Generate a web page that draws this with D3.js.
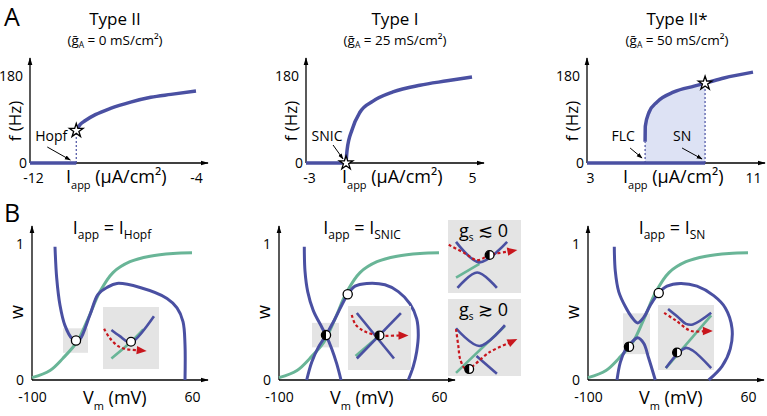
<!DOCTYPE html>
<html><head><meta charset="utf-8">
<script src="https://cdn.jsdelivr.net/npm/d3@7"></script>
<style>
body{margin:0;background:#fff;}
svg{display:block;}
</style></head><body>
<svg id="c" width="767" height="416"></svg>
<script>
// ================= DATA =================
const fiTitles = ["Type II", "Type I", "Type II*"];
const gAValues = ["0", "25", "50"];
const fiTicksI = [[-12, -4], [-3, 5], [3, 11]];
const fTicks = [0, 180];

// f-I curves (Iapp in uA/cm2, f in Hz)
const typeII_I = [-9.77, -9.58, -9.33, -8.85, -8.12, -7.15, -6.18, -5.21, -4.0];
const typeII_f = [67, 80, 88, 100, 113, 126, 136, 142, 149];
const typeI_I = [-1.07, -1.02, -0.78, -0.40, 0.23, 1.19, 2.49, 3.80, 5.0];
const typeI_f = [0, 27, 69, 105, 128, 147, 161, 170, 178];
const typeIIs_I = [5.80, 5.81, 5.99, 6.37, 7.19, 8.16, 8.69, 9.60, 11.0];
const typeIIs_f = [44, 76, 105, 126, 147, 159, 165, 176, 188];

const hopfI = -9.77, hopfF = 67;
const snicI = -1.07;
const flcI = 5.80, flcF = 44;
const snI = 8.69, snF = 165;

// phase planes (Vm in mV, w)
const vTicks = [-100, 60];
const wTicks = [0, 1];
const wNullV = [-100, -82, -69, -55, -44, -32, -19, -2, 18, 41, 60];
const wNullW = [0.017, 0.07, 0.16, 0.28, 0.45, 0.65, 0.79, 0.87, 0.91, 0.93, 0.935];

const hopfNullV = [-77, -75.3, -72, -67, -60, -56, -52, -42, -34, -25, -15, 8, 35, 45, 51, 53, 53];
const hopfNullW = [0.98, 0.75, 0.55, 0.40, 0.305, 0.29, 0.30, 0.48, 0.63, 0.68, 0.71, 0.68, 0.60, 0.53, 0.43, 0.26, 0];

const snicLeftV = [-74.7, -74, -71.3, -65.7, -57.3, -53, -47.3, -42.3, -38];
const snicLeftW = [0.98, 0.80, 0.65, 0.51, 0.39, 0.33, 0.23, 0.12, 0];
const snicRightV = [-72.3, -67.3, -60.7, -53, -44, -31.3, -24, -12.3, 6, 19.3, 31, 37.7, 39.3, 37.7, 34.3, 29.3];
const snicRightW = [0, 0.13, 0.24, 0.33, 0.45, 0.63, 0.69, 0.71, 0.70, 0.65, 0.56, 0.45, 0.33, 0.21, 0.10, 0];

const snUpperV = [-73.7, -72.7, -69.3, -62.7, -56, -50.3, -44.3, -37.7, -29.3, -21, -7.7, 9, 25.7, 37.3, 44, 42.3, 34, 20.7];
const snUpperW = [0.98, 0.80, 0.65, 0.54, 0.46, 0.42, 0.46, 0.55, 0.64, 0.69, 0.71, 0.69, 0.62, 0.53, 0.38, 0.23, 0.10, 0];
const snLowerV = [-71, -67.7, -62.7, -56, -50.3, -44.3, -39.3, -32.7];
const snLowerW = [0, 0.13, 0.22, 0.28, 0.31, 0.27, 0.16, 0];

// fixed points [V, w, kind]
const hopfPoints = [[-56, 0.29, "open"]];
const snicPoints = [[-53, 0.33, "half"], [-31.3, 0.63, "open"]];
const snPoints = [[-59, 0.245, "half"], [-29.3, 0.64, "open"]];

// zoom regions [Vmin, Vmax, wmin, wmax]
const zoomRegions = [[-69, -44, 0.20, 0.38], [-67, -40, 0.24, 0.42], [-65, -38, 0.19, 0.49]];

// schematic insets (normalised coordinates inside each inset)
const insetHopf = {
  blue: [[[0.15, 0.37], [0.30, 0.47], [0.44, 0.56], [0.53, 0.56], [0.91, 0.15]]],
  green: [[0.15, 0.83], [0.50, 0.56], [0.72, 0.36]],
  red: [[0.02, 0.35], [0.12, 0.50], [0.27, 0.63], [0.42, 0.68], [0.78, 0.71]],
  pt: [0.50, 0.56], kind: "open"
};
const insetSnic = {
  blue: [[[0.14, 0.11], [0.73, 0.82]], [[0.14, 0.82], [0.84, 0.11]]],
  green: [[0.12, 0.78], [0.50, 0.46]],
  red: [[0.06, 0.14], [0.12, 0.29], [0.27, 0.40], [0.50, 0.46], [0.96, 0.46]],
  pt: [0.50, 0.46], kind: "half"
};
const insetGsNeg = {
  blue: [[[0.11, 0.30], [0.43, 0.58], [0.81, 0.30]], [[0.13, 0.93], [0.40, 0.72], [0.67, 0.93]]],
  green: [[0.11, 0.79], [0.43, 0.60]],
  red: [[0.01, 0.34], [0.22, 0.45], [0.40, 0.55], [0.57, 0.48], [0.95, 0.41]],
  pt: [0.57, 0.48], kind: "half"
};
const insetGsPos = {
  blue: [[[0.11, 0.38], [0.43, 0.61], [0.78, 0.34]], [[0.39, 0.74], [0.67, 0.97]]],
  green: [[0.11, 0.96], [0.78, 0.35]],
  red: [[0.11, 0.39], [0.14, 0.60], [0.17, 0.79], [0.25, 0.91], [0.57, 0.69], [0.95, 0.52]],
  pt: [0.29, 0.91], kind: "half"
};
const insetSn = {
  blue: [[[0.18, 0.06], [0.35, 0.18], [0.50, 0.29], [0.62, 0.30], [0.95, 0.12]],
         [[0.14, 0.97], [0.35, 0.75], [0.50, 0.66], [0.62, 0.70], [0.95, 0.97]]],
  green: [[0.14, 0.97], [0.95, 0.16]],
  red: [[0.11, 0.12], [0.32, 0.24], [0.59, 0.40], [0.98, 0.40]],
  pt: [0.34, 0.73], kind: "half"
};

// ================= STYLE / LAYOUT =================
const FONT = "'Open Sans','Noto Sans',sans-serif";
const BLUE = "#4a50a2", GREEN = "#69b597", RED = "#c8161d", GRAY = "#e4e4e4", SHADE = "#dde2f4";
const A_X0 = [30, 306, 587], A_W = 166, A_Y0 = 163, A_YTOP = 76;
const A_TITLE_X = [115, 395, 677];
const B_X0 = [32, 279, 588], B_W = 160, B_Y0 = 380, B_YTOP = 244;
const B_TITLE_X = [112, 362, 672];

const svg = d3.select("#c").attr("font-family", FONT);
const defs = svg.append("defs");
defs.append("marker").attr("id", "ax").attr("viewBox", "0 0 10 10")
  .attr("refX", 9).attr("refY", 5).attr("markerWidth", 8).attr("markerHeight", 8)
  .attr("markerUnits", "userSpaceOnUse").attr("orient", "auto")
  .append("path").attr("d", "M0,2 L10,5 L0,8 Z").attr("fill", "#000");
defs.append("marker").attr("id", "ann").attr("viewBox", "0 0 10 10")
  .attr("refX", 9).attr("refY", 5).attr("markerWidth", 6).attr("markerHeight", 6)
  .attr("markerUnits", "userSpaceOnUse").attr("orient", "auto")
  .append("path").attr("d", "M0,1.5 L10,5 L0,8.5 Z").attr("fill", "#000");

function richText(g, x, y, parts, anchor) {
  const t = g.append("text").attr("x", x).attr("y", y).attr("text-anchor", anchor || "middle").attr("fill", "#000");
  parts.forEach(p => {
    const ts = t.append("tspan").attr("font-size", p.s).text(p.t);
    if (p.dy) ts.attr("dy", p.dy);
  });
  return t;
}

function starAt(g, cx, cy) {
  g.append("path").attr("d", d3.symbol().type(d3.symbolStar).size(58)())
    .attr("transform", `translate(${cx},${cy})`)
    .attr("fill", "#fff").attr("stroke", "#000").attr("stroke-width", 1.3);
}

function fixedPoint(g, cx, cy, kind, r) {
  r = r || 4.6;
  g.append("circle").attr("cx", cx).attr("cy", cy).attr("r", r)
    .attr("fill", "#fff").attr("stroke", "#000").attr("stroke-width", 1.3);
  if (kind === "half") {
    g.append("path").attr("d", `M${cx},${cy - r} A${r},${r} 0 0 0 ${cx},${cy + r} Z`).attr("fill", "#000");
  }
}

function axesArrows(g, x0, y0, xEnd, yTop) {
  g.append("line").attr("x1", x0).attr("y1", y0).attr("x2", xEnd).attr("y2", y0)
    .attr("stroke", "#000").attr("stroke-width", 1.3).attr("marker-end", "url(#ax)");
  g.append("line").attr("x1", x0).attr("y1", y0).attr("x2", x0).attr("y2", yTop)
    .attr("stroke", "#000").attr("stroke-width", 1.3).attr("marker-end", "url(#ax)");
}

function styleAxis(ax, size) {
  ax.select(".domain").remove();
  ax.attr("font-family", null).attr("font-size", null);
  ax.selectAll("text").attr("font-size", size).attr("font-family", FONT).attr("fill", "#000");
}

// ================= PANEL A =================
const fiData = [
  d3.zip(typeII_I, typeII_f),
  d3.zip(typeI_I, typeI_f),
  d3.zip(typeIIs_I, typeIIs_f)
];
const bifI = [hopfI, snicI, snI];

svg.append("text").attr("x", 4).attr("y", 26).attr("font-size", 25).text("A");
svg.append("text").attr("x", 4).attr("y", 222).attr("font-size", 25).text("B");

for (let i = 0; i < 3; i++) {
  const x0 = A_X0[i];
  const x = d3.scaleLinear().domain(fiTicksI[i]).range([x0, x0 + A_W]);
  const y = d3.scaleLinear().domain([0, 180]).range([A_Y0, A_YTOP]);
  const g = svg.append("g");

  // titles
  g.append("text").attr("x", A_TITLE_X[i]).attr("y", 25).attr("text-anchor", "middle")
    .attr("font-size", 17).text(fiTitles[i]);
  richText(g, A_TITLE_X[i], 45, [
    { t: "(ḡ", s: 13.5 }, { t: "A", s: 8.5, dy: 3 },
    { t: " = " + gAValues[i] + " mS/cm²)", s: 13.5, dy: -3 }
  ]);

  const line = d3.line().x(d => x(d[0])).y(d => y(d[1])).curve(d3.curveMonotoneX);

  if (i === 2) {
    const shadeData = fiData[2].filter(d => d[0] <= snI);
    g.append("path").attr("d", d3.area().x(d => x(d[0])).y0(y(0)).y1(d => y(d[1])).curve(d3.curveMonotoneX)(shadeData))
      .attr("fill", SHADE);
  }

  axesArrows(g, x0, A_Y0, x0 + 178, 58);

  const axB = g.append("g").attr("transform", `translate(0,${A_Y0})`)
    .call(d3.axisBottom(x).tickValues(fiTicksI[i]).tickSize(0).tickPadding(10).tickFormat(d => String(d)));
  styleAxis(axB, 14);
  axB.selectAll("text").attr("x", (d, j) => j === 0 ? 3 : 0);
  const axL = g.append("g").attr("transform", `translate(${x0},0)`)
    .call(d3.axisLeft(y).tickValues(fTicks).tickSize(0).tickPadding(6).tickFormat(d => String(d)));
  styleAxis(axL, 14);
  axL.selectAll("text").attr("x", d => d === 0 ? -3 : -7);

  // axis labels
  richText(g, x0 + 36, 183, [
    { t: "I", s: 18 }, { t: "app", s: 11, dy: 6 }, { t: " (µA/cm²)", s: 18, dy: -6 }
  ], "start");
  g.append("text").attr("transform", `translate(${x0 - 15},121) rotate(-90)`)
    .attr("text-anchor", "middle").attr("dy", "0.35em").attr("font-size", 17).text("f (Hz)");

  // dashed verticals
  const dashes = i === 0 ? [[hopfI, hopfF]] : i === 2 ? [[flcI, flcF], [snI, snF]] : [];
  dashes.forEach(d => {
    g.append("line").attr("x1", x(d[0])).attr("x2", x(d[0])).attr("y1", y(0)).attr("y2", y(d[1]))
      .attr("stroke", BLUE).attr("stroke-width", 1.2).attr("stroke-dasharray", "2,2");
  });

  // flat (quiescent) branch and firing branch
  g.append("path").attr("d", line([[fiTicksI[i][0], 0], [bifI[i], 0]]))
    .attr("fill", "none").attr("stroke", BLUE).attr("stroke-width", 3.5);
  g.append("path").attr("d", line(fiData[i]))
    .attr("fill", "none").attr("stroke", BLUE).attr("stroke-width", 3.5).attr("stroke-linecap", "butt");

  // annotations
  const ann = [];
  if (i === 0) ann.push(["Hopf", hopfI, -25, -29, -16, -6, -3]);
  if (i === 1) ann.push(["SNIC", snicI, -19, -13, -18, -3, -4]);
  if (i === 2) { ann.push(["FLC", flcI, -22, -15, -15, -3, -5]); ann.push(["SN", snI, -23, -23, -15, -3, -4]); }
  ann.forEach(a => {
    const px = x(a[1]);
    g.append("text").attr("x", px + a[2]).attr("y", 141).attr("text-anchor", "middle").attr("font-size", 14).text(a[0]);
    g.append("line").attr("x1", px + a[3]).attr("y1", A_Y0 + a[4]).attr("x2", px + a[5]).attr("y2", A_Y0 + a[6])
      .attr("stroke", "#000").attr("stroke-width", 1).attr("marker-end", "url(#ann)");
  });

  // stars
  if (i === 0) starAt(g, x(hopfI), y(hopfF));
  if (i === 1) starAt(g, x(snicI), y(0));
  if (i === 2) starAt(g, x(snI), y(snF));
}

// ================= PANEL B =================
const greenData = d3.zip(wNullV, wNullW);
const blueSets = [
  [d3.zip(hopfNullV, hopfNullW)],
  [d3.zip(snicLeftV, snicLeftW), d3.zip(snicRightV, snicRightW)],
  [d3.zip(snUpperV, snUpperW), d3.zip(snLowerV, snLowerW)]
];
const pointSets = [hopfPoints, snicPoints, snPoints];
const titleSubs = ["Hopf", "SNIC", "SN"];

const insetBoxes = [
  [{ x: 103, y: 307, w: 56, h: 62, spec: insetHopf }],
  [{ x: 348, y: 306, w: 63, h: 64, spec: insetSnic },
   { x: 448, y: 220, w: 73, h: 73, spec: insetGsNeg, label: "≲" },
   { x: 448, y: 299, w: 73, h: 77, spec: insetGsPos, label: "≳" }],
  [{ x: 658, y: 305, w: 56, h: 65, spec: insetSn }]
];

function drawRed(g, pts) {
  const n = pts.length;
  const [xa, ya] = pts[n - 2], [xb, yb] = pts[n - 1];
  const ang = Math.atan2(yb - ya, xb - xa);
  const L = 10, Wd = 4.2;
  const bx = xb - L * Math.cos(ang), by = yb - L * Math.sin(ang);
  const lp = pts.slice(0, n - 1).concat([[bx + 1.5 * Math.cos(ang), by + 1.5 * Math.sin(ang)]]);
  g.append("path").attr("d", d3.line().curve(d3.curveCatmullRom)(lp))
    .attr("fill", "none").attr("stroke", RED).attr("stroke-width", 2.2).attr("stroke-dasharray", "3,2.4");
  const s = Math.sin(ang), c = Math.cos(ang);
  g.append("path").attr("d", `M${xb},${yb} L${bx + Wd * s},${by - Wd * c} L${bx - Wd * s},${by + Wd * c} Z`)
    .attr("fill", RED);
}

function drawInset(g, box) {
  const sx = d3.scaleLinear().domain([0, 1]).range([box.x, box.x + box.w]);
  const sy = d3.scaleLinear().domain([0, 1]).range([box.y, box.y + box.h]);
  const ln = d3.line().x(d => sx(d[0])).y(d => sy(d[1])).curve(d3.curveCatmullRom);
  g.append("rect").attr("x", box.x).attr("y", box.y).attr("width", box.w).attr("height", box.h).attr("fill", GRAY);
  if (box.label) {
    richText(g, box.x + box.w / 2 - 1, box.y + 17, [
      { t: "g", s: 18 }, { t: "s", s: 10, dy: 4 }, { t: " " + box.label + " 0", s: 18, dy: -4 }
    ]);
  }
  const sp = box.spec;
  g.append("path").attr("d", ln(sp.green)).attr("fill", "none").attr("stroke", GREEN).attr("stroke-width", 2.6);
  sp.blue.forEach(b => g.append("path").attr("d", ln(b)).attr("fill", "none").attr("stroke", BLUE).attr("stroke-width", 2.6));
  drawRed(g, sp.red.map(d => [sx(d[0]), sy(d[1])]));
  fixedPoint(g, sx(sp.pt[0]), sy(sp.pt[1]), sp.kind, 4.4);
}

for (let i = 0; i < 3; i++) {
  const x0 = B_X0[i];
  const x = d3.scaleLinear().domain(vTicks).range([x0, x0 + B_W]);
  const y = d3.scaleLinear().domain([0, 1]).range([B_Y0, B_YTOP]);
  const g = svg.append("g");
  const ln = d3.line().x(d => x(d[0])).y(d => y(d[1])).curve(d3.curveCatmullRom);

  // zoom region box
  const z = zoomRegions[i];
  g.append("rect").attr("x", x(z[0])).attr("y", y(z[3])).attr("width", x(z[1]) - x(z[0])).attr("height", y(z[2]) - y(z[3]))
    .attr("fill", GRAY);

  axesArrows(g, x0, B_Y0, x0 + 176, 226);

  const axB = g.append("g").attr("transform", `translate(0,${B_Y0})`)
    .call(d3.axisBottom(x).tickValues(vTicks).tickSize(0).tickPadding(12).tickFormat(d => String(d)));
  styleAxis(axB, 14);
  const axL = g.append("g").attr("transform", `translate(${x0},0)`)
    .call(d3.axisLeft(y).tickValues(wTicks).tickSize(0).tickPadding(8).tickFormat(d => String(d)));
  styleAxis(axL, 14);

  richText(g, x0 + 51, 404, [
    { t: "V", s: 18 }, { t: "m", s: 11, dy: 6 }, { t: " (mV)", s: 18, dy: -6 }
  ], "start");
  g.append("text").attr("transform", `translate(${x0 - 15},312) rotate(-90)`)
    .attr("text-anchor", "middle").attr("dy", "0.35em").attr("font-size", 18).text("w");

  richText(g, B_TITLE_X[i], 234, [
    { t: "I", s: 18 }, { t: "app", s: 12, dy: 5 }, { t: " = I", s: 18, dy: -5 }, { t: titleSubs[i], s: 12, dy: 5 }
  ]);

  g.append("path").attr("d", ln(greenData)).attr("fill", "none").attr("stroke", GREEN).attr("stroke-width", 3);
  blueSets[i].forEach(b => g.append("path").attr("d", ln(b)).attr("fill", "none").attr("stroke", BLUE).attr("stroke-width", 3));

  insetBoxes[i].forEach(b => drawInset(g, b));

  pointSets[i].forEach(p => fixedPoint(g, x(p[0]), y(p[1]), p[2]));
}
</script>
</body></html>
